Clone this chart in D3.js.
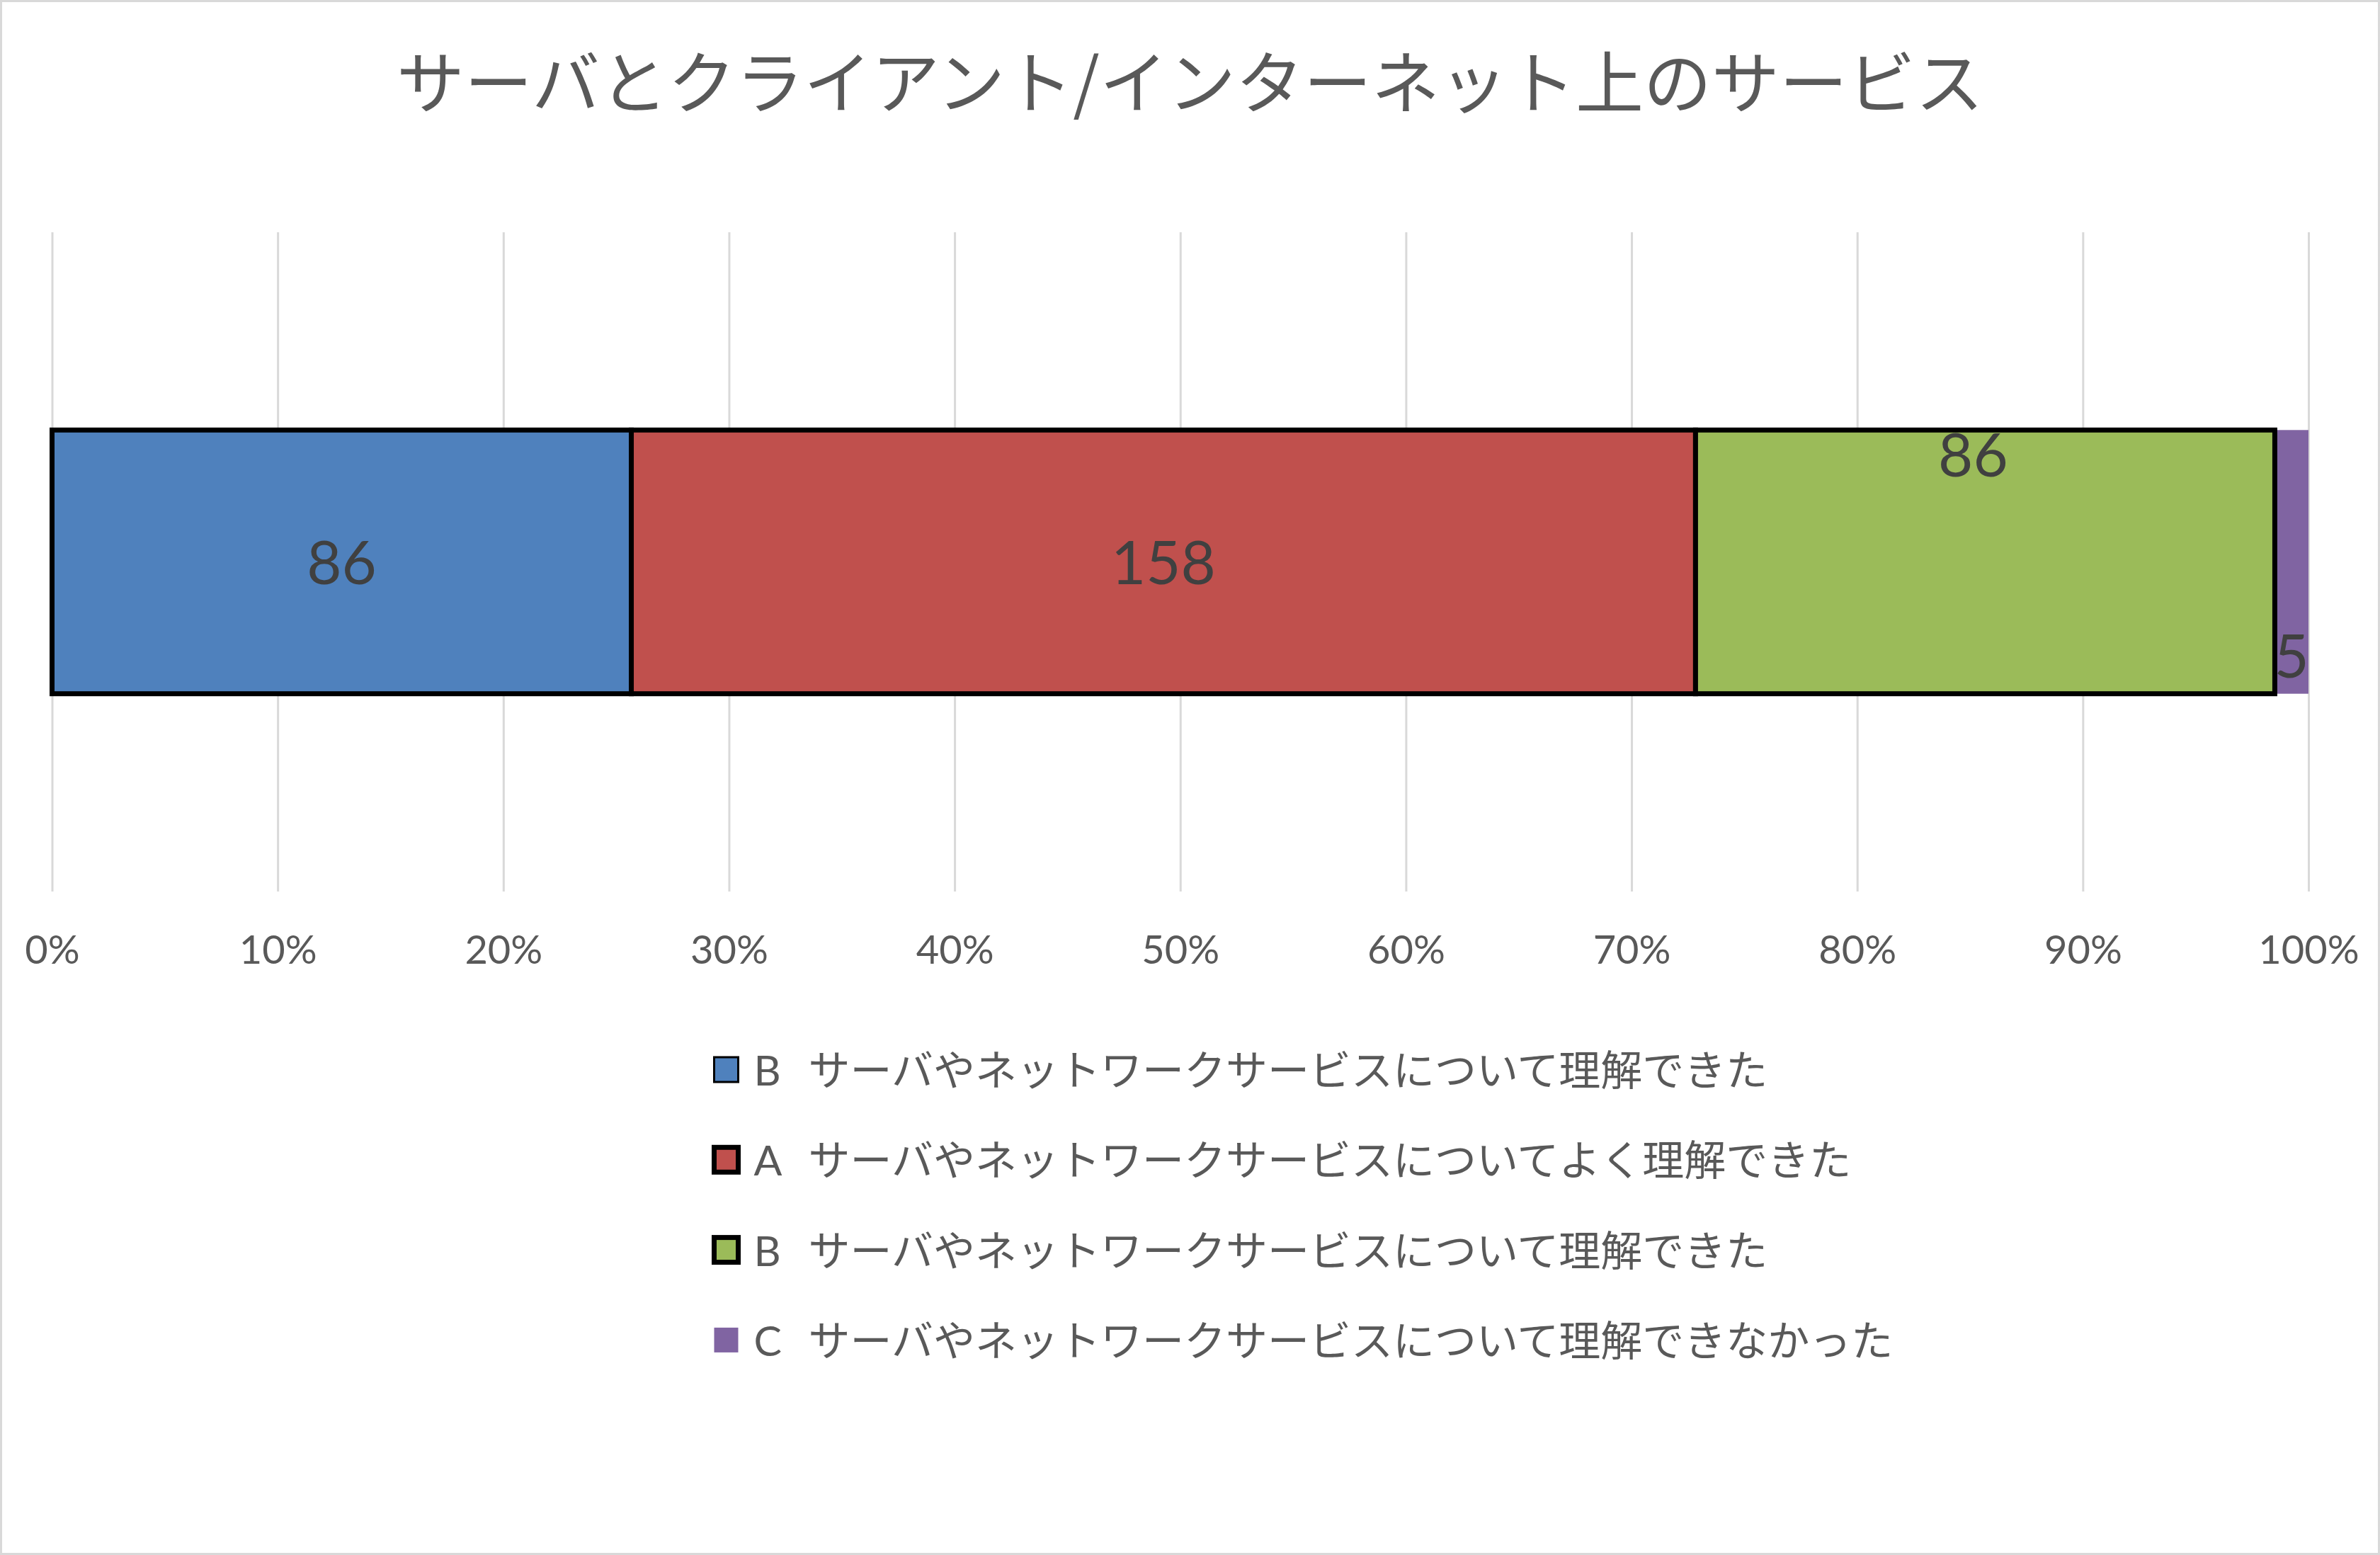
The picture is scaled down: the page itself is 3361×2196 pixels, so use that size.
<!DOCTYPE html>
<html>
<head>
<meta charset="utf-8">
<script src="https://d3js.org/d3.v7.min.js"></script>
<style>
  body { margin: 0; background: #fff; }
  text { font-family: Lato, "Noto Sans CJK JP", sans-serif; }
</style>
</head>
<body>
<script>
// data
var title = "サーバとクライアント/インターネット上のサービス";
var seriesNames = [
  "B　サーバやネットワークサービスについて理解できた",
  "A　サーバやネットワークサービスについてよく理解できた",
  "B　サーバやネットワークサービスについて理解できた",
  "C　サーバやネットワークサービスについて理解できなかった"
];
var seriesValues = [86, 158, 86, 5];
var tickValues = [0, 0.1, 0.2, 0.3, 0.4, 0.5, 0.6, 0.7, 0.8, 0.9, 1];

// look
var colors = ["#4f81bd", "#c0504d", "#9bbb59", "#8064a2"];
var strokeW = [7, 7, 7, 0];
var legendStroke = [3, 7, 7, 0];
var labelPlace = ["middle", "middle", "top", "bottom"];

var width = 3361, height = 2196;
var plot = {left: 73.5, right: 3260, top: 328, bottom: 1259};

var svg = d3.select("body").append("svg")
  .attr("width", width)
  .attr("height", height);

svg.append("rect")
  .attr("x", 1.5).attr("y", 1.5)
  .attr("width", width - 3).attr("height", height - 3)
  .attr("fill", "#fff")
  .attr("stroke", "#d9d9d9")
  .attr("stroke-width", 3);

svg.append("text")
  .attr("x", width / 2)
  .attr("y", 110)
  .attr("text-anchor", "middle")
  .attr("dominant-baseline", "central")
  .attr("font-size", 96)
  .attr("fill", "#595959")
  .style("font-family", "'Noto Sans CJK JP', sans-serif")
  .text(title);

var x = d3.scaleLinear().domain([0, 1]).range([plot.left, plot.right]);
var y = d3.scaleBand().domain(["all"]).range([plot.top, plot.bottom])
  .paddingInner(0).paddingOuter(0.75);

// grid + ticks
var xAxis = d3.axisBottom(x)
  .tickValues(tickValues)
  .tickSizeInner(-(plot.bottom - plot.top))
  .tickSizeOuter(0)
  .tickPadding(62)
  .tickFormat(d3.format(".0%"));

var axisG = svg.append("g")
  .attr("transform", "translate(0," + plot.bottom + ")")
  .call(xAxis);
axisG.select(".domain").remove();
axisG.selectAll(".tick line").attr("stroke", "#d9d9d9").attr("stroke-width", 3);
axisG.selectAll(".tick text")
  .attr("fill", "#595959")
  .attr("font-size", 56)
  .style("font-family", "Lato, sans-serif");

// stacked bar
var row = {cat: "all"};
seriesValues.forEach(function(v, i) { row["s" + i] = v; });
var keys = seriesValues.map(function(v, i) { return "s" + i; });
var stacked = d3.stack().keys(keys).offset(d3.stackOffsetExpand)([row]);

var bars = svg.append("g").selectAll("g")
  .data(stacked)
  .enter().append("g");

bars.append("rect")
  .attr("x", function(d) { return x(d[0][0]); })
  .attr("y", y("all"))
  .attr("width", function(d) { return x(d[0][1]) - x(d[0][0]); })
  .attr("height", y.bandwidth())
  .attr("fill", function(d, i) { return colors[i]; })
  .attr("stroke", function(d, i) { return strokeW[i] ? "#000" : "none"; })
  .attr("stroke-width", function(d, i) { return strokeW[i]; });

// purple one sits under the black outlines
bars.filter(function(d, i) { return i === 3; }).lower();

bars.append("text")
  .attr("x", function(d, i) {
    var c = (x(d[0][0]) + x(d[0][1])) / 2;
    return labelPlace[i] === "top" ? c - 17 : c;
  })
  .attr("y", function(d, i) {
    var top = y("all"), bot = top + y.bandwidth();
    if (labelPlace[i] === "top") return top + 66;
    if (labelPlace[i] === "bottom") return bot - 23;
    return (top + bot) / 2 + 31;
  })
  .attr("text-anchor", "middle")
  .attr("font-size", 85)
  .attr("fill", "#404040")
  .text(function(d, i) { return seriesValues[i]; });

// legend
var legend = svg.append("g").selectAll("g")
  .data(seriesNames)
  .enter().append("g")
  .attr("transform", function(d, i) { return "translate(1025.5," + (1510 + i * 127.3) + ")"; });

legend.append("rect")
  .attr("x", -17).attr("y", -17)
  .attr("width", 34).attr("height", 35)
  .attr("fill", function(d, i) { return colors[i]; })
  .attr("stroke", function(d, i) { return legendStroke[i] ? "#000" : "none"; })
  .attr("stroke-width", function(d, i) { return legendStroke[i]; });

var lt = legend.append("text")
  .attr("y", 0)
  .attr("dominant-baseline", "central")
  .attr("font-size", 59)
  .attr("fill", "#595959");
lt.append("tspan")
  .attr("x", 39)
  .text(function(d) { return d.split("　")[0]; });
lt.append("tspan")
  .attr("x", 116)
  .text(function(d) { return d.split("　")[1]; });
</script>
</body>
</html>
